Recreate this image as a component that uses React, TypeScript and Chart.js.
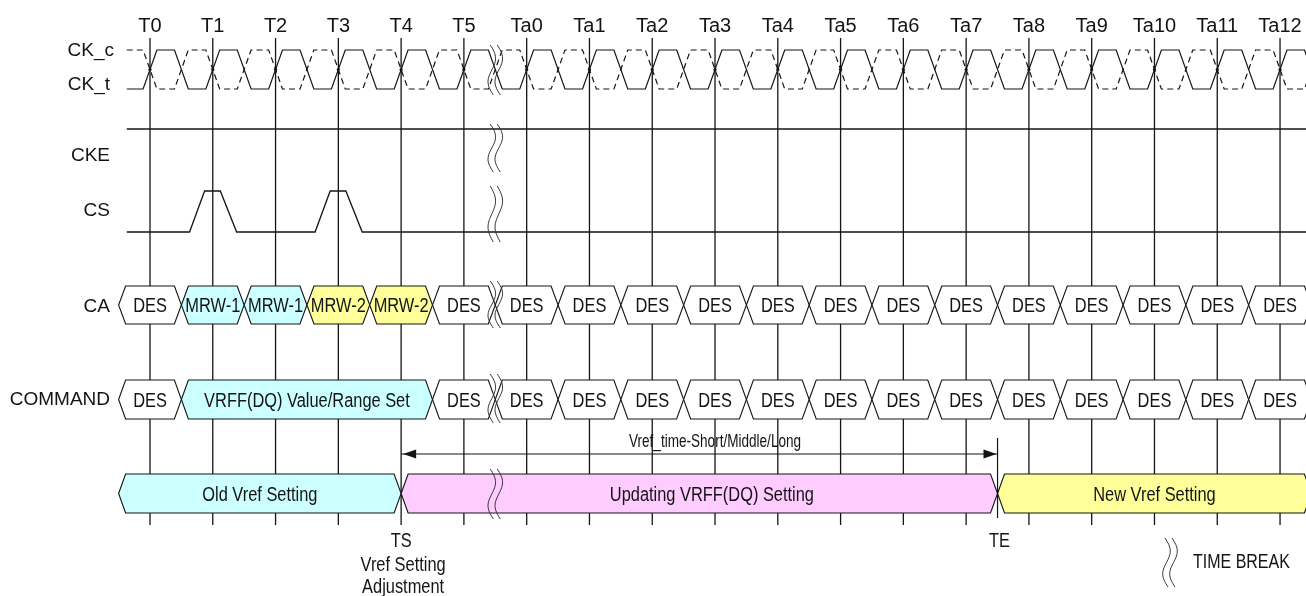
import React, { useEffect, useRef } from 'react';
import { Chart, registerables } from 'chart.js';

Chart.register(...registerables);

// ---------------- data ----------------
const TICK_LABELS = ['T0', 'T1', 'T2', 'T3', 'T4', 'T5', 'Ta0', 'Ta1', 'Ta2', 'Ta3', 'Ta4', 'Ta5', 'Ta6', 'Ta7', 'Ta8', 'Ta9', 'Ta10', 'Ta11', 'Ta12'];
const SIGNAL_LABELS = ['CK_c', 'CK_t', 'CKE', 'CS', 'CA', 'COMMAND'];
const CS_PULSES = [1, 3];
const CA_VALUES = ['DES', 'MRW-1', 'MRW-1', 'MRW-2', 'MRW-2', 'DES', 'DES', 'DES', 'DES', 'DES', 'DES', 'DES', 'DES', 'DES', 'DES', 'DES', 'DES', 'DES', 'DES'];
const CA_FILLS = ['none', 'cyan', 'cyan', 'yellow', 'yellow', 'none', 'none', 'none', 'none', 'none', 'none', 'none', 'none', 'none', 'none', 'none', 'none', 'none', 'none'];
const COMMAND_VALUES = ['DES', 'VRFF(DQ) Value/Range Set', 'DES', 'DES', 'DES', 'DES', 'DES', 'DES', 'DES', 'DES', 'DES', 'DES', 'DES', 'DES', 'DES', 'DES'];
const COMMAND_CYCLES = [1, 4, 1, 1, 1, 1, 1, 1, 1, 1, 1, 1, 1, 1, 1, 1];
const COMMAND_FILLS = ['none', 'cyan', 'none', 'none', 'none', 'none', 'none', 'none', 'none', 'none', 'none', 'none', 'none', 'none', 'none', 'none'];
const VREF_LABELS = ['Old Vref Setting', 'Updating VRFF(DQ) Setting', 'New Vref Setting'];
const VREF_BOUNDS = [-0.5, 4, 13.5, 18.5];
const VREF_FILLS = ['cyan', 'pink', 'yellow'];
const TIME_BREAK_AT = 5.5;
const TS_AT = 4;
const TE_AT = 13.5;
const VREF_TIME_TEXT = 'Vref_time-Short/Middle/Long';
const TS_TEXT = ['TS', 'Vref Setting', 'Adjustment'];
const TE_TEXT = 'TE';
const LEGEND_TEXT = 'TIME BREAK';

// ---------------- layout / style ----------------
const W = 1306;
const H = 596;
const X_MIN = -2.3893;
const X_MAX = 18.4135;
const EDGE = 0.11; // half transition width of clock edges (cycles)
const SIGNAL_START = -0.37;
const SIGNAL_END = 19;
const ROW = {
  tickBase: 32,
  gridTop: 38,
  gridBot: 525,
  ckHigh: 50,
  ckLow: 89,
  cke: 129,
  csHigh: 191,
  csLow: 232,
  caTop: 286,
  caBot: 324,
  cmdTop: 380,
  cmdBot: 419,
  arrow: 454,
  arrowText: 447,
  vrefTop: 474,
  vrefBot: 513,
  teTop: 438,
  teBot: 518,
};
const LABEL_BASE = [56, 90, 161, 216, 312, 405];
const LABEL_RIGHT = [114, 110, 110, 110, 110, 110];
const BREAK_RANGES = [[45, 95], [124, 172], [186, 242], [281, 328], [374, 423], [469, 519]];
const FILL: Record<string, string> = { none: '#FFFFFF', cyan: '#CCFFFF', yellow: '#FFFF99', pink: '#FFCCFF' };
const INK = '#141414';
const SLANT = 7;

let narrowOK: boolean | null = null;
function hasNarrow(ctx: CanvasRenderingContext2D) {
  if (narrowOK !== null) return narrowOK;
  ctx.save();
  ctx.font = '40px "Liberation Sans Narrow", monospace';
  const a = ctx.measureText('DES Setting').width;
  ctx.font = '40px monospace';
  const b = ctx.measureText('DES Setting').width;
  ctx.restore();
  narrowOK = Math.abs(a - b) > 0.5;
  return narrowOK;
}

function drawText(ctx: CanvasRenderingContext2D, text: string, x: number, y: number, size: number, narrow: boolean, align: CanvasTextAlign = 'center', sx = 1) {
  ctx.save();
  ctx.fillStyle = INK;
  ctx.textAlign = align;
  ctx.textBaseline = 'alphabetic';
  let scale = sx;
  if (narrow) {
    if (hasNarrow(ctx)) {
      ctx.font = `${size}px "Liberation Sans Narrow"`;
    } else {
      ctx.font = `${size}px "Liberation Sans", Arial, sans-serif`;
      scale *= 0.82;
    }
  } else {
    ctx.font = `${size}px "Liberation Sans", Arial, sans-serif`;
  }
  ctx.translate(x, y);
  ctx.scale(scale, 1);
  ctx.fillText(text, 0, 0);
  ctx.restore();
}

function clockPoints(inverted: boolean) {
  const lo = inverted ? ROW.ckHigh : ROW.ckLow;
  const hi = inverted ? ROW.ckLow : ROW.ckHigh;
  const pts: { x: number; y: number }[] = [{ x: SIGNAL_START, y: lo }];
  for (let i = 0; i <= TICK_LABELS.length; i++) {
    pts.push({ x: i - EDGE, y: lo }, { x: i + EDGE, y: hi }, { x: i + 0.5 - EDGE, y: hi }, { x: i + 0.5 + EDGE, y: lo });
  }
  return pts;
}

function csPoints() {
  const pts: { x: number; y: number }[] = [{ x: SIGNAL_START, y: ROW.csLow }];
  CS_PULSES.forEach((p) => {
    pts.push({ x: p - 0.37, y: ROW.csLow }, { x: p - 0.13, y: ROW.csHigh }, { x: p + 0.12, y: ROW.csHigh }, { x: p + 0.38, y: ROW.csLow });
  });
  pts.push({ x: SIGNAL_END, y: ROW.csLow });
  return pts;
}

type Cell = { from: number; to: number; label: string; fill: string; at?: number };

function caCells(): Cell[] {
  return CA_VALUES.map((v, i) => ({ from: i - 0.5, to: i + 0.5, label: v, fill: CA_FILLS[i] }));
}
function cmdCells(): Cell[] {
  let start = -0.5;
  return COMMAND_VALUES.map((v, i) => {
    const c = { from: start, to: start + COMMAND_CYCLES[i], label: v, fill: COMMAND_FILLS[i] };
    start += COMMAND_CYCLES[i];
    return c;
  });
}
function vrefCells(): Cell[] {
  return VREF_LABELS.map((v, i) => ({ from: VREF_BOUNDS[i], to: VREF_BOUNDS[i + 1], label: v, fill: VREF_FILLS[i], at: i === 1 ? 8.95 : undefined }));
}

function drawBus(ctx: CanvasRenderingContext2D, px: (v: number) => number, cells: Cell[], top: number, bot: number) {
  const mid = (top + bot) / 2;
  cells.forEach((c) => {
    const l = px(c.from);
    const r = px(c.to);
    ctx.beginPath();
    ctx.moveTo(l, mid);
    ctx.lineTo(l + SLANT, top);
    ctx.lineTo(r - SLANT, top);
    ctx.lineTo(r, mid);
    ctx.lineTo(r - SLANT, bot);
    ctx.lineTo(l + SLANT, bot);
    ctx.closePath();
    ctx.fillStyle = FILL[c.fill];
    ctx.fill();
    ctx.lineWidth = 1.1;
    ctx.strokeStyle = INK;
    ctx.stroke();
  });
  cells.forEach((c) => {
    const cx = c.at !== undefined ? px(c.at) : (px(c.from) + px(Math.min(c.to, X_MAX + 0.09))) / 2;
    drawText(ctx, c.label, cx, mid + 7, 20, true);
  });
}

function wavy(ctx: CanvasRenderingContext2D, cx: number, y0: number, y1: number) {
  [-3.5, 3.5].forEach((off) => {
    ctx.beginPath();
    const n = 30;
    for (let k = 0; k <= n; k++) {
      const t = k / n;
      const x = cx + off + 4.5 * Math.sin(2 * Math.PI * t) + (t - 0.5) * 3;
      const y = y0 + (y1 - y0) * t;
      if (k === 0) ctx.moveTo(x, y);
      else ctx.lineTo(x, y);
    }
    ctx.lineWidth = 1;
    ctx.strokeStyle = '#333';
    ctx.stroke();
  });
}

const timingPlugin = {
  id: 'timing',
  beforeDraw(chart: any) {
    const ctx = chart.ctx;
    ctx.save();
    ctx.fillStyle = '#ffffff';
    ctx.fillRect(0, 0, chart.width, chart.height);
    ctx.restore();
  },
  beforeDatasetsDraw(chart: any) {
    const ctx: CanvasRenderingContext2D = chart.ctx;
    const xs = chart.scales.x;
    const ys = chart.scales.y;
    ctx.save();
    ctx.strokeStyle = INK;
    ctx.lineWidth = 1.3;
    TICK_LABELS.forEach((_, i) => {
      const x = xs.getPixelForValue(i);
      ctx.beginPath();
      ctx.moveTo(x, ys.getPixelForValue(ROW.gridTop));
      ctx.lineTo(x, ys.getPixelForValue(ROW.gridBot));
      ctx.stroke();
    });
    ctx.restore();
  },
  afterDatasetsDraw(chart: any) {
    const ctx: CanvasRenderingContext2D = chart.ctx;
    const xs = chart.scales.x;
    const ys = chart.scales.y;
    const px = (v: number) => xs.getPixelForValue(v);
    const py = (v: number) => ys.getPixelForValue(v);
    ctx.save();

    // buses
    drawBus(ctx, px, caCells(), py(ROW.caTop), py(ROW.caBot));
    drawBus(ctx, px, cmdCells(), py(ROW.cmdTop), py(ROW.cmdBot));
    drawBus(ctx, px, vrefCells(), py(ROW.vrefTop), py(ROW.vrefBot));

    // clock crossing dots
    ctx.fillStyle = INK;
    TICK_LABELS.forEach((_, i) => {
      ctx.beginPath();
      ctx.arc(px(i), py((ROW.ckHigh + ROW.ckLow) / 2), 1.6, 0, Math.PI * 2);
      ctx.fill();
    });

    // Vref_time arrow
    const ay = py(ROW.arrow);
    const ax0 = px(TS_AT);
    const ax1 = px(TE_AT);
    ctx.strokeStyle = INK;
    ctx.lineWidth = 1.2;
    ctx.beginPath();
    ctx.moveTo(ax0, ay);
    ctx.lineTo(ax1, ay);
    ctx.stroke();
    ctx.beginPath();
    ctx.moveTo(ax0 + 2, ay);
    ctx.lineTo(ax0 + 15, ay - 4.5);
    ctx.lineTo(ax0 + 15, ay + 4.5);
    ctx.closePath();
    ctx.fill();
    ctx.beginPath();
    ctx.moveTo(ax1 - 1, ay);
    ctx.lineTo(ax1 - 14, ay - 4.5);
    ctx.lineTo(ax1 - 14, ay + 4.5);
    ctx.closePath();
    ctx.fill();
    drawText(ctx, VREF_TIME_TEXT, px(9.0), py(ROW.arrowText), 19, true, 'center', 0.87);

    // TE marker line
    ctx.beginPath();
    ctx.lineWidth = 1.2;
    ctx.moveTo(ax1, py(ROW.teTop));
    ctx.lineTo(ax1, py(ROW.teBot));
    ctx.stroke();

    // tick labels
    TICK_LABELS.forEach((t, i) => drawText(ctx, t, px(i), py(ROW.tickBase), 20, false));
    // signal labels
    SIGNAL_LABELS.forEach((s, i) => drawText(ctx, s, LABEL_RIGHT[i], py(LABEL_BASE[i]), 19, false, 'right'));

    // TS / TE labels
    drawText(ctx, TS_TEXT[0], px(TS_AT), py(547), 20, true);
    drawText(ctx, TS_TEXT[1], px(TS_AT) + 2, py(571), 20, true);
    drawText(ctx, TS_TEXT[2], px(TS_AT) + 2, py(593), 20, true);
    drawText(ctx, TE_TEXT, px(TE_AT) + 2, py(547), 20, true);

    // time breaks
    BREAK_RANGES.forEach(([a, b]) => wavy(ctx, px(TIME_BREAK_AT), py(a), py(b)));

    // legend
    wavy(ctx, 1170, py(538), py(587));
    drawText(ctx, LEGEND_TEXT, 1193, py(568), 19.5, true, 'left');

    ctx.restore();
  },
};

export default function App() {
  const ref = useRef<HTMLCanvasElement>(null);
  useEffect(() => {
    if (!ref.current) return;
    const chart = new Chart(ref.current, {
      type: 'line',
      data: {
        datasets: [
          { label: 'CK_c', data: clockPoints(true), borderColor: INK, borderWidth: 1.2, borderDash: [6, 4], pointRadius: 0, fill: false },
          { label: 'CK_t', data: clockPoints(false), borderColor: INK, borderWidth: 1.2, pointRadius: 0, fill: false },
          { label: 'CKE', data: [{ x: SIGNAL_START, y: ROW.cke }, { x: SIGNAL_END, y: ROW.cke }], borderColor: INK, borderWidth: 1.3, pointRadius: 0, fill: false },
          { label: 'CS', data: csPoints(), borderColor: INK, borderWidth: 1.3, pointRadius: 0, fill: false },
        ],
      },
      options: {
        animation: false,
        responsive: false,
        maintainAspectRatio: false,
        devicePixelRatio: 1,
        events: [],
        layout: { padding: 0 },
        plugins: { legend: { display: false }, tooltip: { enabled: false }, title: { display: false } },
        elements: { line: { tension: 0 }, point: { radius: 0 } },
        scales: {
          x: { type: 'linear', min: X_MIN, max: X_MAX, display: false },
          y: { type: 'linear', min: 0, max: H, reverse: true, display: false },
        },
      } as any,
      plugins: [timingPlugin as any],
    });
    return () => chart.destroy();
  }, []);
  return (
    <div style={{ position: 'fixed', left: 0, top: 0, width: W, height: H, background: '#fff' }}>
      <canvas ref={ref} width={W} height={H} style={{ display: 'block', width: W, height: H }} />
    </div>
  );
}
